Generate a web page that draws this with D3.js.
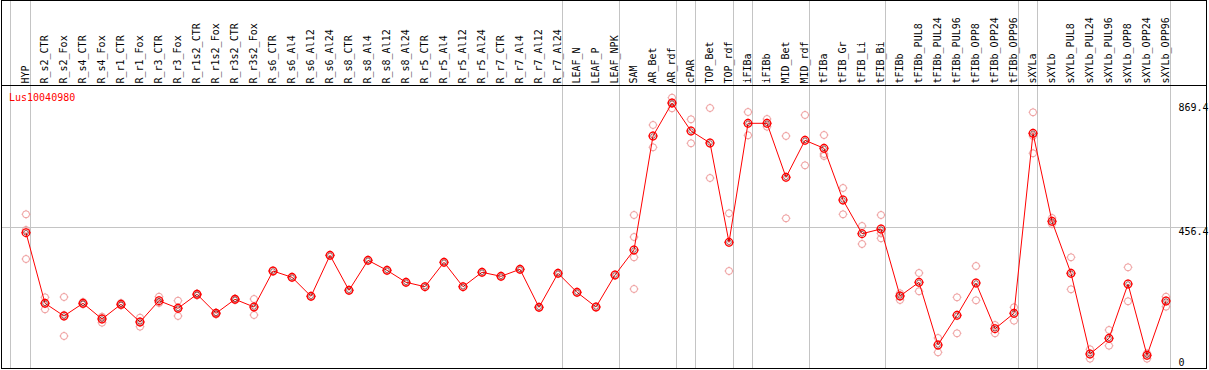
<!DOCTYPE html>
<html>
<head>
<meta charset="utf-8">
<script src="https://cdn.jsdelivr.net/npm/d3@7"></script>
<style>
body { margin: 0; background: #fff; }
svg text { font-family: "DejaVu Sans Mono", monospace; font-size: 10px; }
</style>
</head>
<body>
<div id="chartArea"></div>
<script>
// --------- DATA -----------

var geneName = 'Lus10040980';

var samples = ['HYP', 'R_s2_CTR', 'R_s2_Fox', 'R_s4_CTR', 'R_s4_Fox', 'R_r1_CTR', 'R_r1_Fox',
    'R_r3_CTR', 'R_r3_Fox', 'R_r1s2_CTR', 'R_r1s2_Fox', 'R_r3s2_CTR', 'R_r3s2_Fox',
    'R_s6_CTR', 'R_s6_Al4', 'R_s6_Al12', 'R_s6_Al24', 'R_s8_CTR', 'R_s8_Al4', 'R_s8_Al12', 'R_s8_Al24',
    'R_r5_CTR', 'R_r5_Al4', 'R_r5_Al12', 'R_r5_Al24', 'R_r7_CTR', 'R_r7_Al4', 'R_r7_Al12', 'R_r7_Al24',
    'LEAF_N', 'LEAF_P', 'LEAF_NPK', 'SAM', 'AR_Bet', 'AR_rdf', 'cPAR', 'TOP_Bet', 'TOP_rdf',
    'iFIBa', 'iFIBb', 'MID_Bet', 'MID_rdf', 'tFIBa', 'tFIB_Gr', 'tFIB_Li', 'tFIB_Bi',
    'tFIBb', 'tFIBb_PUL8', 'tFIBb_PUL24', 'tFIBb_PUL96', 'tFIBb_OPP8', 'tFIBb_OPP24', 'tFIBb_OPP96',
    'sXYLa', 'sXYLb', 'sXYLb_PUL8', 'sXYLb_PUL24', 'sXYLb_PUL96', 'sXYLb_OPP8', 'sXYLb_OPP24', 'sXYLb_OPP96'];

// mean expression per sample
var means = [439.0, 204.7, 162.6, 204.7, 152.6, 201.4, 142.7,
    213.4, 188.1, 234.6, 171.6, 218.0, 192.5,
    311.9, 291.0, 228.0, 364.0, 247.9, 347.4, 314.2, 274.4,
    259.8, 340.8, 259.8, 307.6, 294.3, 317.6, 191.5, 304.3,
    241.2, 192.5, 298.6, 381.6, 759.9, 869.4, 776.5, 736.7, 407.2,
    802.0, 802.0, 622.8, 745.6, 719.1, 547.5, 435.7, 451.3,
    229.0, 274.4, 66.4, 164.9, 272.1, 120.5, 171.6,
    768.8, 476.8, 304.3, 36.5, 88.6, 268.8, 32.2, 212.4];

// single replicates per sample
var replicates = [
    [500.1, 448.0, 351.7], [224.6, 204.7, 184.8], [225.6, 165.9, 96.2], [209.1, 202.4, 202.4],
    [160.3, 156.0, 140.4], [205.7, 201.4, 197.4], [157.0, 142.7, 127.1], [226.6, 208.1, 205.7],
    [213.4, 189.1, 162.6], [237.3, 234.6, 230.6], [174.2, 171.6, 167.6], [220.7, 218.0, 215.7],
    [219.0, 192.5, 165.9],
    [311.9], [291.0], [228.0], [364.0], [247.9], [347.4], [314.2], [274.4],
    [259.8], [340.8], [259.8], [307.6], [294.3], [317.6], [191.5], [304.3],
    [241.2], [192.5], [298.6],
    [497.7, 424.7, 357.4, 252.2], [796.4, 722.4], [887.0, 868.4, 851.8], [815.3, 735.7],
    [852.8, 620.5], [503.4, 311.9], [839.5, 762.2], [816.3, 790.7], [759.9, 486.8],
    [829.6, 662.6], [763.2, 700.1, 693.5], [587.3, 500.1], [461.2, 401.5], [497.7, 437.0, 420.4],
    [237.9, 229.0, 215.7], [305.3, 244.6], [89.6, 42.1], [224.6, 105.2], [328.5, 214.7],
    [132.7, 105.2], [191.5, 147.0],
    [838.5, 759.9, 702.5], [487.8, 467.9], [357.4, 251.2], [52.1, 20.9], [116.1, 64.0],
    [324.2, 211.4], [38.8, 20.9], [226.6, 193.5]];

var yTicks = [0, 456.4, 869.4];
var gridValue = 456.4;

// a separator line is drawn right after these samples
var groupEnds = ['HYP', 'R_r7_Al24', 'LEAF_NPK', 'AR_rdf', 'cPAR', 'TOP_rdf', 'iFIBa',
    'MID_rdf', 'tFIB_Bi', 'tFIBb_OPP96', 'sXYLa', 'sXYLb_OPP96'];


// ---------- PAGE -----------

var W = 1209, H = 370;
var headerH = 85;
var frameRight = 1206.5, frameBottom = 368.5;
var repColor = '#ee9a9a';

var svg = d3.select('#chartArea').append('svg')
    .attr('width', W)
    .attr('height', H);

var x = d3.scalePoint()
    .domain(samples)
    .range([26, 1166]);

var y = d3.scaleLinear()
    .domain([0, d3.max(means)])
    .range([365, 103]);

function crisp(v) {
    return Math.floor(v) + 0.5;
}

// vertical separators, through the header too
var sepX = [x(samples[0]) - 15.5].concat(groupEnds.map(function(s) { return x(s) + 4.5; }));
svg.selectAll('line.sep')
    .data(sepX)
    .enter()
    .append('line')
        .attr('class', 'sep')
        .attr('x1', function(d) { return crisp(d); })
        .attr('x2', function(d) { return crisp(d); })
        .attr('y1', 0)
        .attr('y2', frameBottom)
        .style('stroke', '#c4c4c4')
        .style('stroke-width', 1);

// horizontal grid line
svg.append('line')
    .attr('x1', 1.5)
    .attr('x2', frameRight)
    .attr('y1', crisp(y(gridValue)))
    .attr('y2', crisp(y(gridValue)))
    .style('stroke', '#c4c4c4')
    .style('stroke-width', 1);

// frame and header rule
svg.append('rect')
    .attr('x', 1.5)
    .attr('y', 0.5)
    .attr('width', frameRight - 1.5)
    .attr('height', frameBottom - 0.5)
    .style('fill', 'none')
    .style('stroke', 'black');

svg.append('line')
    .attr('x1', 1.5)
    .attr('x2', frameRight)
    .attr('y1', headerH + 0.5)
    .attr('y2', headerH + 0.5)
    .style('stroke', 'black');

// sample names, rotated
svg.selectAll('text.sample')
    .data(samples)
    .enter()
    .append('text')
        .attr('class', 'sample')
        .attr('transform', function(d) {
            return 'translate(' + (x(d) + 2.8) + ',' + (headerH - 1.5) + ') rotate(-90)';
        })
        .style('fill', 'black')
        .text(function(d) { return d; });

// markers: circle with four little ticks
function marker(g, r, color, width) {
    g.append('circle')
        .attr('r', r)
        .style('fill', 'none')
        .style('stroke', color)
        .style('stroke-width', width);
    g.append('path')
        .attr('d', 'M0,' + (-r - 1) + 'V' + (-r) + 'M0,' + r + 'V' + (r + 1) +
            'M' + (-r - 1) + ',0H' + (-r) + 'M' + r + ',0H' + (r + 1))
        .style('stroke', color)
        .style('stroke-width', 0.8);
}

// replicates
var repPoints = [];
replicates.forEach(function(vals, i) {
    vals.forEach(function(v) {
        repPoints.push({sample: samples[i], value: v});
    });
});

svg.selectAll('g.rep')
    .data(repPoints)
    .enter()
    .append('g')
        .attr('class', 'rep')
        .attr('transform', function(d) {
            return 'translate(' + x(d.sample) + ',' + y(d.value) + ')';
        })
        .each(function() { marker(d3.select(this), 3.5, repColor, 1); });

// mean line
var line = d3.line()
    .x(function(d, i) { return x(samples[i]); })
    .y(function(d) { return y(d); });

svg.append('path')
    .datum(means)
    .attr('d', line)
    .style('fill', 'none')
    .style('stroke', 'red')
    .style('stroke-width', 1);

var meanG = svg.selectAll('g.mean')
    .data(means)
    .enter()
    .append('g')
        .attr('class', 'mean')
        .attr('transform', function(d, i) {
            return 'translate(' + x(samples[i]) + ',' + y(d) + ')';
        });

meanG.each(function() { marker(d3.select(this), 3.8, 'red', 1.3); });
meanG.append('circle')
    .attr('r', 2.3)
    .style('fill', 'none')
    .style('stroke', '#500')
    .style('stroke-width', 0.6);

// right-hand value labels
svg.selectAll('text.ytick')
    .data(yTicks)
    .enter()
    .append('text')
        .attr('class', 'ytick')
        .attr('x', 1178.5)
        .attr('y', function(d) { return Math.min(y(d) + 8, 366); })
        .style('fill', 'black')
        .text(function(d) { return d; });

// gene name
svg.append('text')
    .attr('x', 9)
    .attr('y', 101)
    .style('fill', 'red')
    .text(geneName);
</script>
</body>
</html>
